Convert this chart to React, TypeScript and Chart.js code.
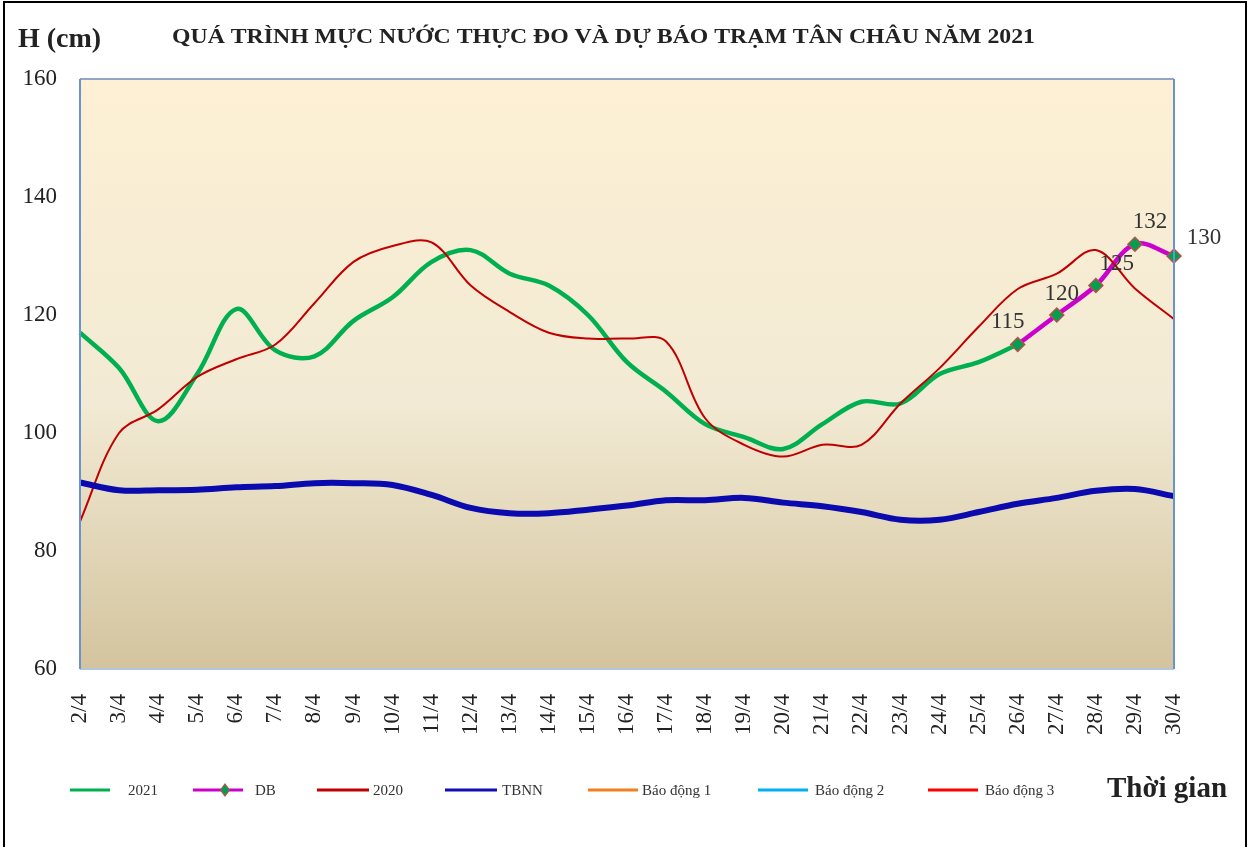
import React, { useEffect, useRef } from "react";
import { Chart, registerables } from "chart.js";

Chart.register(...registerables);

const labels = [
  "2/4", "3/4", "4/4", "5/4", "6/4", "7/4", "8/4", "9/4", "10/4", "11/4",
  "12/4", "13/4", "14/4", "15/4", "16/4", "17/4", "18/4", "19/4", "20/4", "21/4",
  "22/4", "23/4", "24/4", "25/4", "26/4", "27/4", "28/4", "29/4", "30/4",
];

const h2021 = [
  117, 111, 102, 110, 121, 114, 113, 119, 123, 129,
  131, 127, 125, 120, 112, 107, 101.5, 99.3, 97.3, 101.5,
  105.3, 105, 110, 112, 115, null, null, null, null,
];

const hDB = [
  null, null, null, null, null, null, null, null, null, null,
  null, null, null, null, null, null, null, null, null, null,
  null, null, null, null, 115, 120, 125, 132, 130,
];

const h2020 = [
  85, 100, 104, 109.5, 112.5, 115, 122, 129, 131.7, 132.3,
  125, 120.5, 117, 116, 116, 115.5, 102.5, 98, 96, 98,
  98, 105, 111, 118, 124.4, 127, 131, 124.5, 119.3,
];

const hTBNN = [
  91.6, 90.3, 90.3, 90.4, 90.8, 91, 91.5, 91.5, 91.2, 89.5,
  87.3, 86.4, 86.4, 87, 87.7, 88.6, 88.6, 89, 88.2, 87.6,
  86.6, 85.3, 85.3, 86.6, 88, 89, 90.2, 90.5, 89.3,
];

// Alarm levels are above the plotted range (no visible lines)
const hBaoDong1: (number | null)[] = [];
const hBaoDong2: (number | null)[] = [];
const hBaoDong3: (number | null)[] = [];

const yTicks = [60, 80, 100, 120, 140, 160];

const SERIF = "'Liberation Serif', 'Times New Roman', serif";
const TITLE = "QUÁ TRÌNH MỰC NƯỚC THỰC ĐO VÀ DỰ BÁO TRẠM TÂN CHÂU NĂM 2021";

const legendItems = [
  { text: "2021", color: "#00B050", lx: 70, lw: 40, tx: 128, marker: false, width: 3 },
  { text: "DB", color: "#CC00CC", lx: 193, lw: 50, tx: 255, marker: true, width: 3 },
  { text: "2020", color: "#C00000", lx: 317, lw: 52, tx: 373, marker: false, width: 3 },
  { text: "TBNN", color: "#1010B0", lx: 445, lw: 52, tx: 502, marker: false, width: 3 },
  { text: "Báo động 1", color: "#F08020", lx: 588, lw: 50, tx: 642, marker: false, width: 3 },
  { text: "Báo động 2", color: "#00B0F0", lx: 758, lw: 50, tx: 815, marker: false, width: 3 },
  { text: "Báo động 3", color: "#FF0000", lx: 928, lw: 50, tx: 985, marker: false, width: 3 },
];

const labelOffsets: Record<number, [number, number]> = {
  24: [-10, -23],
  25: [5, -21],
  26: [21, -22],
  27: [15, -22],
  28: [30, -18],
};

const decorPlugin = {
  id: "decor",
  beforeDatasetsDraw(chart: any) {
    const { ctx, chartArea } = chart;
    const { left, right, top, bottom } = chartArea;
    ctx.save();
    const g = ctx.createLinearGradient(0, top, 0, bottom);
    g.addColorStop(0, "#FDF0D4");
    g.addColorStop(0.55, "#F2EAD4");
    g.addColorStop(1, "#D3C49E");
    ctx.fillStyle = g;
    ctx.fillRect(left, top, right - left, bottom - top);
    ctx.restore();
  },
  afterDraw(chart: any) {
    const { ctx, chartArea } = chart;
    const { left, right, top, bottom } = chartArea;
    ctx.save();
    // frame
    ctx.lineWidth = 2;
    ctx.strokeStyle = "#8FA6C6";
    ctx.beginPath();
    ctx.moveTo(left, top);
    ctx.lineTo(right, top);
    ctx.stroke();
    ctx.strokeStyle = "#B4C6DE";
    ctx.beginPath();
    ctx.moveTo(left, bottom);
    ctx.lineTo(right, bottom);
    ctx.stroke();
    ctx.strokeStyle = "#6A92CC";
    ctx.beginPath();
    ctx.moveTo(left, top);
    ctx.lineTo(left, bottom);
    ctx.moveTo(right, top);
    ctx.lineTo(right, bottom);
    ctx.stroke();

    // data labels for DB
    const meta = chart.getDatasetMeta(1);
    ctx.fillStyle = "#333333";
    ctx.font = `23px ${SERIF}`;
    ctx.textAlign = "center";
    ctx.textBaseline = "middle";
    meta.data.forEach((pt: any, i: number) => {
      const v = hDB[i];
      if (v == null) return;
      const off = labelOffsets[i] || [0, -22];
      ctx.fillText(String(v), pt.x + off[0], pt.y + off[1]);
    });

    // titles
    ctx.fillStyle = "#222222";
    ctx.textAlign = "left";
    ctx.font = `bold 28px ${SERIF}`;
    ctx.fillText("H (cm)", 18, 40);

    ctx.font = `bold 21px ${SERIF}`;
    const tw = ctx.measureText(TITLE).width;
    const sx = 863 / tw;
    ctx.save();
    ctx.translate(172, 38);
    ctx.scale(sx, 1);
    ctx.textAlign = "left";
    ctx.fillText(TITLE, 0, 0);
    ctx.restore();

    ctx.textAlign = "left";
    ctx.font = `bold 29px ${SERIF}`;
    ctx.fillText("Thời gian", 1107, 790);

    // legend
    const ly = 790;
    ctx.font = `15px ${SERIF}`;
    legendItems.forEach((it) => {
      ctx.strokeStyle = it.color;
      ctx.lineWidth = it.width;
      ctx.beginPath();
      ctx.moveTo(it.lx, ly);
      ctx.lineTo(it.lx + it.lw, ly);
      ctx.stroke();
      if (it.marker) {
        const cx = it.lx + 32;
        ctx.fillStyle = "#00A050";
        ctx.strokeStyle = "#B5524A";
        ctx.lineWidth = 1.2;
        ctx.beginPath();
        ctx.moveTo(cx, ly - 6);
        ctx.lineTo(cx + 4.5, ly);
        ctx.lineTo(cx, ly + 6);
        ctx.lineTo(cx - 4.5, ly);
        ctx.closePath();
        ctx.fill();
        ctx.stroke();
      }
      ctx.fillStyle = "#333333";
      ctx.fillText(it.text, it.tx, ly + 1);
    });
    ctx.restore();
  },
};

export default function App() {
  const ref = useRef<HTMLCanvasElement | null>(null);

  useEffect(() => {
    if (!ref.current) return;
    const chart = new Chart(ref.current, {
      type: "line",
      data: {
        labels,
        datasets: [
          {
            label: "2021",
            data: h2021,
            borderColor: "#00B050",
            borderWidth: 4.5,
            pointRadius: 0,
            tension: 0.35,
            order: 4,
          },
          {
            label: "DB",
            data: hDB,
            borderColor: "#CC00CC",
            borderWidth: 4.5,
            pointStyle: "rectRot",
            pointRadius: 7,
            pointBackgroundColor: "#00A050",
            pointBorderColor: "#B5524A",
            pointBorderWidth: 1.5,
            tension: 0.35,
            order: 3,
          },
          {
            label: "2020",
            data: h2020,
            borderColor: "#C00000",
            borderWidth: 2,
            pointRadius: 0,
            tension: 0.35,
            order: 2,
          },
          {
            label: "TBNN",
            data: hTBNN,
            borderColor: "#0A0AAE",
            borderWidth: 6,
            pointRadius: 0,
            tension: 0.35,
            order: 1,
          },
          { label: "Báo động 1", data: hBaoDong1, borderColor: "#F08020", borderWidth: 2, pointRadius: 0, order: 5 },
          { label: "Báo động 2", data: hBaoDong2, borderColor: "#00B0F0", borderWidth: 2, pointRadius: 0, order: 6 },
          { label: "Báo động 3", data: hBaoDong3, borderColor: "#FF0000", borderWidth: 2, pointRadius: 0, order: 7 },
        ],
      },
      options: {
        responsive: false,
        animation: false,
        layout: { padding: { left: 0, right: 77, top: 79, bottom: 0 } },
        plugins: {
          legend: { display: false },
          title: { display: false },
          tooltip: { enabled: false },
        },
        scales: {
          x: {
            offset: false,
            grid: { display: false, drawTicks: false },
            border: { display: false },
            ticks: {
              autoSkip: false,
              maxRotation: 90,
              minRotation: 90,
              padding: 25,
              color: "#222222",
              font: { family: SERIF, size: 23 },
            },
            afterFit: (s: any) => {
              s.height = 178;
            },
          },
          y: {
            min: 60,
            max: 160,
            afterBuildTicks: (s: any) => {
              s.ticks = yTicks.map((v) => ({ value: v }));
            },
            grid: { display: false, drawTicks: false },
            border: { display: false },
            ticks: {
              padding: 23,
              color: "#222222",
              font: { family: SERIF, size: 23 },
            },
            afterFit: (s: any) => {
              s.width = 80;
            },
          },
        },
      },
      plugins: [decorPlugin],
    });
    return () => chart.destroy();
  }, []);

  return (
    <div style={{ position: "absolute", left: 0, top: 0, width: 1251, height: 847, background: "#fff", overflow: "hidden" }}>
      <canvas ref={ref} width={1251} height={847} style={{ width: 1251, height: 847, display: "block" }} />
      <div
        style={{
          position: "absolute",
          left: 3,
          top: 1,
          width: 1244,
          height: 846,
          borderLeft: "2px solid #000",
          borderTop: "2px solid #000",
          borderRight: "2px solid #000",
          boxSizing: "border-box",
          pointerEvents: "none",
        }}
      />
    </div>
  );
}
